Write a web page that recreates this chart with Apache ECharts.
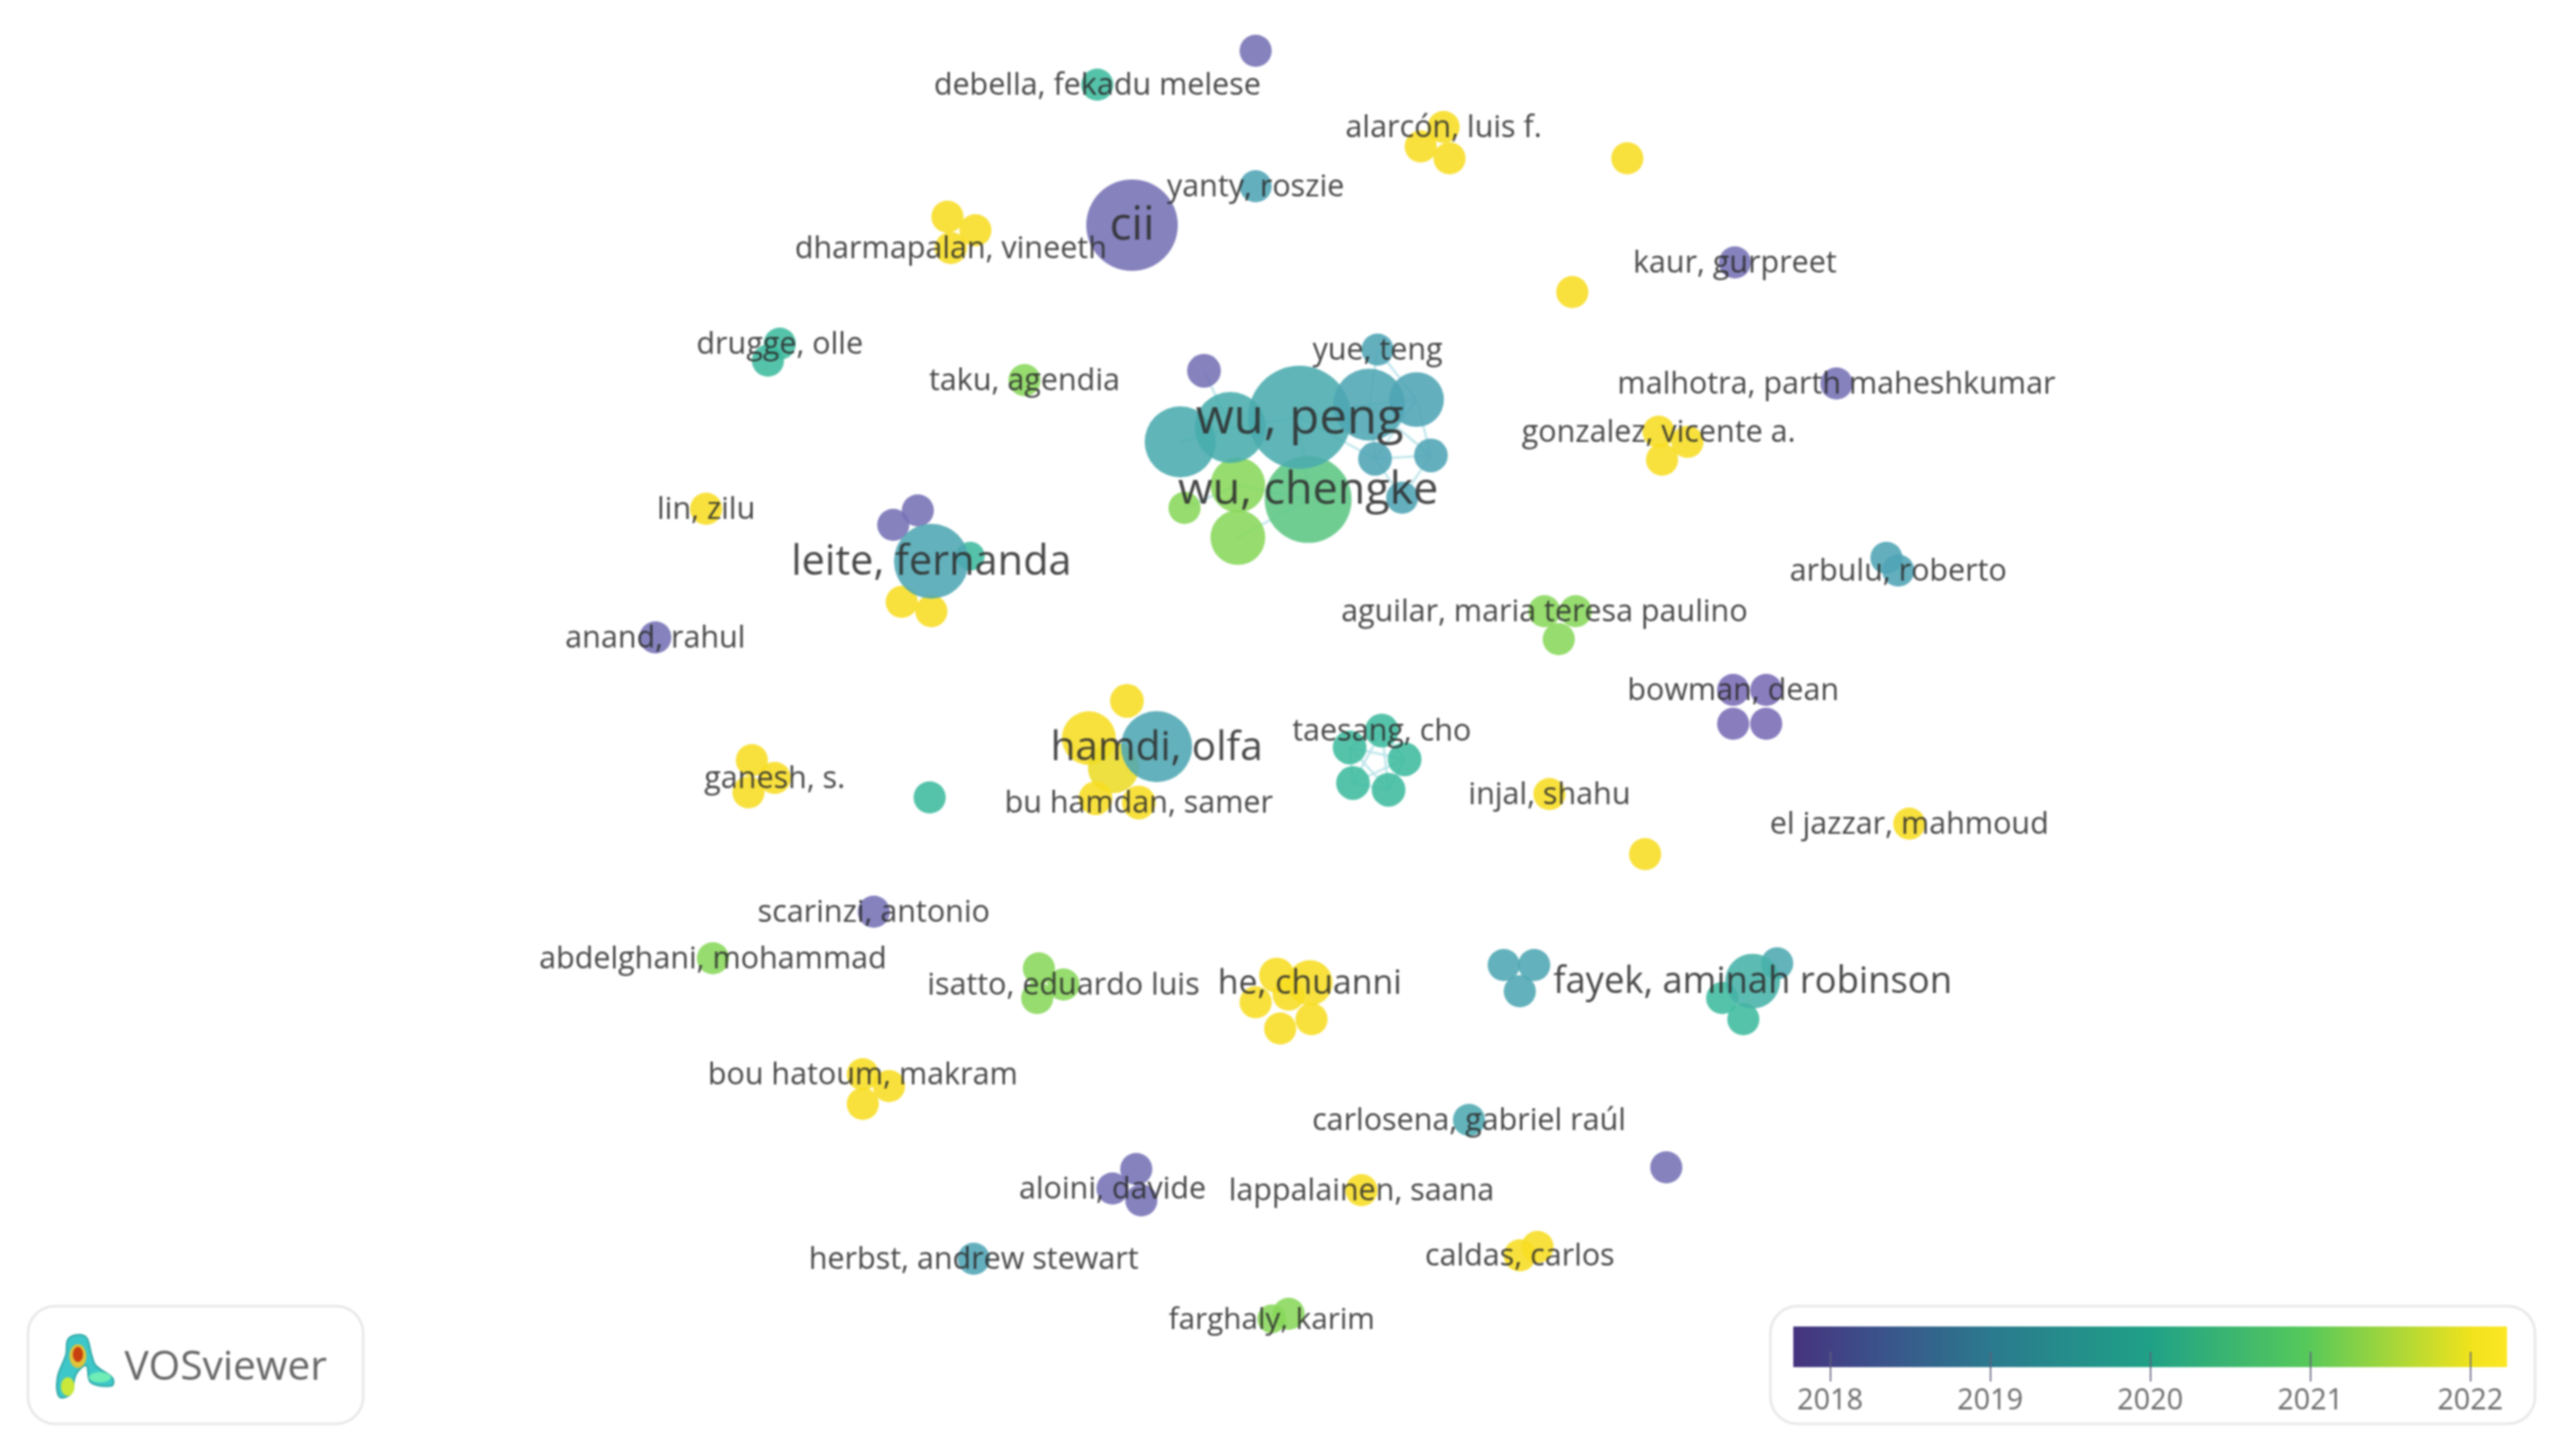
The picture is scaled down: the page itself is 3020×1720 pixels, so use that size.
<!DOCTYPE html>
<html lang="en">
<head>
    <meta charset="utf-8">
    <title>VOSviewer overlay</title>
    <script src="https://cdn.jsdelivr.net/npm/echarts@6/dist/echarts.min.js"></script>
    <style>
        html, body { margin: 0; background: #fff; }
        /* the reference is a soft, upscaled screenshot */
        #main { width: 3020px; height: 1720px; filter: blur(1.1px); }
    </style>
</head>
<body>
<div id="main"></div>
<script type="text/javascript">
    // map position, weight (documents) and average publication year of every node
    var nodeX = [1483, 1296, 1705, 1678, 1712, 1922, 1483, 1337, 1119, 1152, 1123, 2049, 1857, 921, 907, 1210,
        1422, 1545, 1462, 1462, 1399, 1394, 1453, 1535, 1617, 1673, 1627, 1690, 1624, 1656,
        2169, 1959, 1993, 1963, 834, 1084, 1055, 1146, 1065, 1100, 1100, 2228, 2242, 774,
        1824, 1861, 1841, 2047, 2086, 2047, 2086, 1331, 1286, 1315, 1294, 1345, 1366,
        1632, 1594, 1659, 1598, 1640, 1830, 888, 915, 884, 1098, 2255, 1943, 1032, 842,
        1227, 1256, 1225, 1508, 1483, 1512, 1549, 1522, 1547, 1776, 1812, 1795,
        2099, 2034, 2059, 2070, 1019, 1050, 1019, 1735, 1968, 1342, 1314, 1348, 1608, 1150, 1816, 1795, 1522, 1502];
    var nodeY = [60, 100, 150, 173, 187, 187, 220, 266, 256, 272, 293, 310, 345, 406, 426, 449,
        438, 590, 573, 635, 600, 522, 505, 493, 478, 472, 413, 538, 542, 588,
        453, 510, 522, 543, 601, 603, 620, 657, 711, 722, 663, 659, 674, 753,
        722, 722, 755, 815, 815, 855, 855, 828, 872, 907, 943, 948, 882,
        863, 883, 897, 925, 933, 938, 898, 919, 936, 942, 973, 1009, 1077, 1132,
        1144, 1163, 1179, 1152, 1184, 1215, 1204, 1175, 1161, 1140, 1140, 1171,
        1138, 1179, 1204, 1159, 1269, 1283, 1304, 1323, 1379, 1381, 1404, 1418, 1406, 1487, 1473, 1483, 1552, 1558];
    var nodeWeight = [1, 1, 1, 1, 1, 1, 1, 8.1, 1, 1, 1, 1, 1, 1, 1, 1,
        1.1, 7.3, 2.9, 2.9, 1, 4.9, 4.9, 10.3, 5, 2.9, 1, 1.1, 1.1, 1,
        1, 1, 1, 1, 1, 1, 1, 0.8, 1, 1, 5.4, 1, 1, 1,
        1, 1, 1, 1, 1, 1, 1, 1.1, 2.8, 2.5, 1.1, 1.1, 4.9,
        1.1, 1.1, 1.1, 1.1, 1.1, 1, 1, 1, 1, 1, 1, 1, 1, 1,
        1, 1, 1, 1.2, 1, 1, 1, 1, 2, 1, 1, 1,
        1, 1, 1, 2.9, 1, 1, 1, 1, 1, 1, 1, 1, 1, 1, 1, 1, 1, 0.8];
    var nodeYear = [2018.1, 2020, 2022, 2022, 2022, 2022, 2019, 2018.1, 2022, 2022, 2022, 2018.1, 2022, 2020, 2020, 2021,
        2018.1, 2020.4, 2021, 2021, 2021, 2019.3, 2019.4, 2019.3, 2019.1, 2019, 2019, 2019, 2019, 2019,
        2018.1, 2022, 2022, 2022, 2022, 2018.1, 2018.1, 2020, 2022, 2022, 2019.1, 2019, 2019, 2018.1,
        2021, 2021, 2021, 2018, 2018, 2018, 2018, 2022, 2022, 2021.9, 2022, 2022, 2019.1,
        2020, 2020, 2020, 2020, 2020, 2022, 2022, 2022, 2022, 2020, 2022, 2022, 2018.1, 2021,
        2021, 2021, 2021, 2022, 2022, 2022, 2022, 2022, 2022, 2019.1, 2019.1, 2019.1,
        2019.2, 2020, 2020, 2019.6, 2022, 2022, 2022, 2019.2, 2018.1, 2018.1, 2018.1, 2018.1, 2022, 2019, 2022, 2022, 2021, 2021];

    var labelNodes = [1, 2, 6, 7, 10, 11, 13, 15, 17, 23, 26, 30, 31, 34, 40, 42, 43, 44, 47, 55, 56, 57, 62, 64,
        67, 69, 70, 72, 79, 86, 87, 90, 93, 95, 96, 98, 100];
    var labelNames = ['debella, fekadu melese', 'alarcón, luis f.', 'yanty, roszie', 'cii', 'dharmapalan, vineeth',
        'kaur, gurpreet', 'drugge, olle', 'taku, agendia', 'wu, chengke', 'wu, peng', 'yue, teng',
        'malhotra, parth maheshkumar', 'gonzalez, vicente a.', 'lin, zilu', 'leite, fernanda', 'arbulu, roberto',
        'anand, rahul', 'aguilar, maria teresa paulino', 'bowman, dean', 'bu hamdan, samer', 'hamdi, olfa',
        'taesang, cho', 'injal, shahu', 'ganesh, s.', 'el jazzar, mahmoud', 'scarinzi, antonio',
        'abdelghani, mohammad', 'isatto, eduardo luis', 'he, chuanni', 'fayek, aminah robinson', 'bou hatoum, makram',
        'carlosena, gabriel raúl', 'aloini, davide', 'lappalainen, saana', 'herbst, andrew stewart', 'caldas, carlos',
        'farghaly, karim'];

    // co-authorship links, faint in the picture
    var linkFrom = [16, 21, 22, 23, 18, 19, 20, 17, 24, 24, 24, 25, 25, 27, 27, 28, 26, 26, 23, 57, 57, 57, 57, 58, 58, 58, 59, 59, 60];
    var linkTo = [22, 22, 23, 24, 17, 17, 18, 23, 25, 27, 28, 27, 28, 28, 29, 29, 24, 25, 28, 58, 59, 60, 61, 59, 60, 61, 60, 61, 61];

    var legendTicks = [2018, 2019, 2020, 2021, 2022];
    var legendMin = 2017.77;
    var legendMax = 2022.23;

    var labelOfNode = {};
    labelNodes.forEach(function (n, i) {
        labelOfNode[n] = labelNames[i];
    });

    var nodes = nodeX.map(function (x, i) {
        var item = {value: [x, nodeY[i], nodeWeight[i], nodeYear[i]]};
        if (labelOfNode[i]) {
            item.label = {
                show: true,
                position: 'inside',
                // wu, chengke sits a little above its bubble
                offset: [0, i === 17 ? -10 : 2],
                formatter: labelOfNode[i],
                fontSize: Math.round(36 + 10 * (Math.sqrt(nodeWeight[i]) - 1))
            };
        }
        return item;
    });

    var links = linkFrom.map(function (a, i) {
        var b = linkTo[i];
        return {coords: [[nodeX[a], nodeY[a]], [nodeX[b], nodeY[b]]]};
    });

    var myChart = echarts.init(document.getElementById('main'));
    myChart.setOption({
        backgroundColor: '#ffffff',
        animation: false,
        textStyle: {fontFamily: '"Open Sans"'},
        grid: [
            {left: 0, top: 0, width: 3020, height: 1720},
            {left: 2118, top: 1567, width: 843, height: 65}
        ],
        xAxis: [
            {gridIndex: 0, type: 'value', min: 0, max: 3020, show: false},
            {
                gridIndex: 1, type: 'value', min: legendMin, max: legendMax, z: 5,
                axisLine: {show: false},
                splitLine: {show: false},
                axisTick: {
                    show: true, inside: true, length: 35, customValues: legendTicks,
                    lineStyle: {color: 'rgba(95,95,125,0.8)', width: 2}
                },
                axisLabel: {
                    show: true, customValues: legendTicks, margin: 6, fontSize: 34, color: '#6a6a6a',
                    formatter: function (v) {
                        return String(v);
                    }
                }
            }
        ],
        yAxis: [
            {gridIndex: 0, type: 'value', min: 0, max: 1720, inverse: true, show: false},
            {gridIndex: 1, type: 'value', min: 0, max: 1, show: false}
        ],
        visualMap: {
            show: false,
            seriesIndex: 1,
            dimension: 3,
            min: 2018,
            max: 2022,
            inRange: {color: ['#796bb5', '#4fa4b5', '#3ebb9e', '#88d75a', '#f7dd21']}
        },
        graphic: [
            {type: 'rect', z: -1, shape: {x: 33, y: 1543, width: 396, height: 139, r: 32}, style: {fill: '#fff', stroke: '#e8e8e8', lineWidth: 3}},
            {type: 'rect', z: -1, shape: {x: 2091, y: 1543, width: 903, height: 139, r: 32}, style: {fill: '#fff', stroke: '#e8e8e8', lineWidth: 3}},
            {type: 'text', z: 3, style: {x: 147, y: 1616, text: 'VOSviewer', fontFamily: '"Open Sans"', fontSize: 48, fill: '#666666', textVerticalAlign: 'middle'}},
            // logo: small density map
            {
                type: 'polygon', z: 3,
                shape: {
                    smooth: 0.35,
                    points: [[90, 1577], [102, 1580], [108, 1600], [113, 1613], [133, 1628], [132, 1637], [107, 1633], [102, 1613], [90, 1623], [83, 1647], [70, 1650], [68, 1627], [78, 1600], [80, 1583]]
                },
                style: {fill: '#3ec7c9', stroke: '#2fa9a6', lineWidth: 2}
            },
            {type: 'ellipse', z: 4, shape: {cx: 118, cy: 1627, rx: 13, ry: 6}, style: {fill: '#6fedb5'}},
            {type: 'ellipse', z: 4, shape: {cx: 80, cy: 1638, rx: 8, ry: 11}, style: {fill: '#c9e83a'}},
            {type: 'ellipse', z: 4, shape: {cx: 92, cy: 1602, rx: 10, ry: 14}, style: {fill: '#e0c43a'}},
            {type: 'ellipse', z: 5, shape: {cx: 92, cy: 1600, rx: 6, ry: 9}, style: {fill: '#c8400f'}}
        ],
        series: [
            {
                type: 'lines',
                coordinateSystem: 'cartesian2d',
                xAxisIndex: 0,
                yAxisIndex: 0,
                silent: true,
                z: 1,
                lineStyle: {color: '#b9e3ea', width: 3, opacity: 0.8},
                data: links
            },
            {
                type: 'scatter',
                xAxisIndex: 0,
                yAxisIndex: 0,
                silent: true,
                z: 2,
                symbolSize: function (val) {
                    return 38 * Math.sqrt(val[2]);
                },
                itemStyle: {opacity: 0.88},
                label: {color: '#2e2e2e', fontFamily: '"Open Sans"'},
                data: nodes
            },
            {
                // colour bar of the legend
                type: 'custom',
                xAxisIndex: 1,
                yAxisIndex: 1,
                silent: true,
                z: 2,
                data: [[legendMin, legendMax]],
                renderItem: function (params, api) {
                    var a = api.coord([api.value(0), 1]);
                    var b = api.coord([api.value(1), 0.26]);
                    return {
                        type: 'rect',
                        shape: {x: a[0], y: a[1], width: b[0] - a[0], height: b[1] - a[1]},
                        style: {
                            fill: new echarts.graphic.LinearGradient(0, 0, 1, 0, [
                                {offset: 0, color: '#46337e'},
                                {offset: 0.1, color: '#3d4d8a'},
                                {offset: 0.28, color: '#2b7a8e'},
                                {offset: 0.5, color: '#1fa187'},
                                {offset: 0.72, color: '#56c95a'},
                                {offset: 0.95, color: '#f0e31c'},
                                {offset: 1, color: '#fde725'}
                            ])
                        }
                    };
                }
            }
        ]
    });
</script>
</body>
</html>
